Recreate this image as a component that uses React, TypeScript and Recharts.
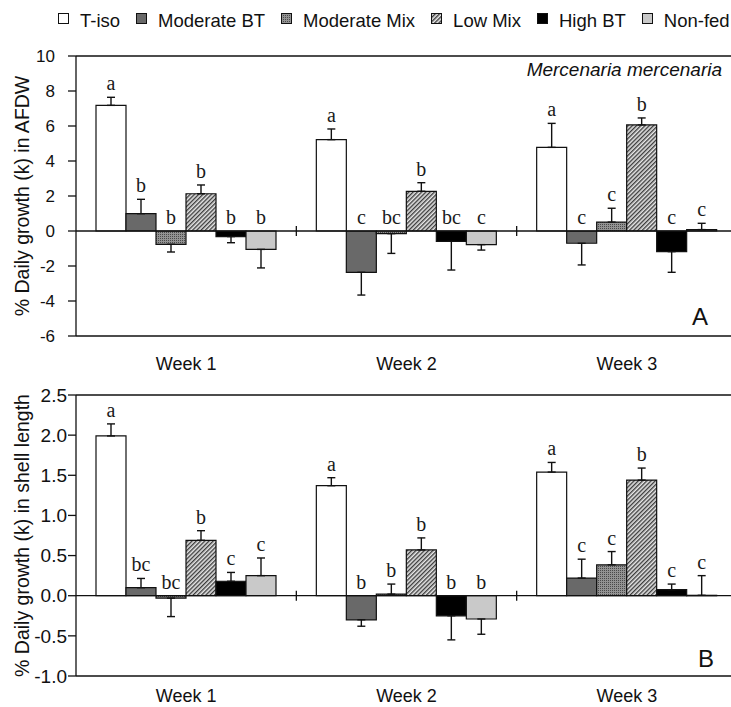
import React from 'react';
import { BarChart, Bar, XAxis, YAxis, ErrorBar, LabelList, ReferenceLine } from 'recharts';

const weeks = ['Week 1', 'Week 2', 'Week 3'];
const treatments = ['T-iso', 'Moderate BT', 'Moderate Mix', 'Low Mix', 'High BT', 'Non-fed'];
const keys = ['tiso', 'modBT', 'modMix', 'lowMix', 'highBT', 'nonFed'];

// panel A: % daily growth (k) in AFDW, one array per week, treatments in order
const afdwWeek1 = [7.18, 0.99, -0.76, 2.13, -0.32, -1.05];
const afdwWeek2 = [5.22, -2.36, -0.15, 2.27, -0.59, -0.78];
const afdwWeek3 = [4.78, -0.7, 0.51, 6.06, -1.18, 0.08];
const afdwErrWeek1 = [0.46, 0.82, 0.44, 0.5, 0.35, 1.06];
const afdwErrWeek2 = [0.61, 1.3, 1.13, 0.49, 1.64, 0.31];
const afdwErrWeek3 = [1.37, 1.24, 0.79, 0.4, 1.18, 0.36];
const afdwSigWeek1 = ['a', 'b', 'b', 'b', 'b', 'b'];
const afdwSigWeek2 = ['a', 'c', 'bc', 'b', 'bc', 'c'];
const afdwSigWeek3 = ['a', 'c', 'c', 'b', 'c', 'c'];
const afdwTicks = [-6, -4, -2, 0, 2, 4, 6, 8, 10];

// panel B: % daily growth (k) in shell length
const shellWeek1 = [1.99, 0.1, -0.03, 0.69, 0.18, 0.25];
const shellWeek2 = [1.37, -0.3, 0.02, 0.57, -0.25, -0.29];
const shellWeek3 = [1.54, 0.22, 0.385, 1.44, 0.075, 0.005];
const shellErrWeek1 = [0.15, 0.115, 0.23, 0.12, 0.11, 0.22];
const shellErrWeek2 = [0.1, 0.08, 0.125, 0.15, 0.3, 0.19];
const shellErrWeek3 = [0.12, 0.235, 0.165, 0.15, 0.07, 0.245];
const shellSigWeek1 = ['a', 'bc', 'bc', 'b', 'c', 'c'];
const shellSigWeek2 = ['a', 'b', 'b', 'b', 'b', 'b'];
const shellSigWeek3 = ['a', 'c', 'c', 'b', 'c', 'c'];
const shellTicks = [-1, -0.5, 0, 0.5, 1, 1.5, 2, 2.5];

const fills = ['#ffffff', '#696969', 'url(#stipple)', 'url(#hatch)', '#000000', '#c9c9c9'];
const SANS = '"Liberation Sans", Arial, sans-serif';
const SERIF = '"Liberation Serif", "Times New Roman", serif';

// one row per week; error bars are one-sided, pointing away from zero
function buildRows(means: number[][], errs: number[][], sigs: string[][]) {
  return weeks.map((week, w) => {
    const row: any = { week };
    keys.forEach((k, i) => {
      const v = means[w][i];
      const e = errs[w][i];
      row[k] = v;
      row[k + 'E'] = e;
      row[k + 'Err'] = v >= 0 ? [0, e] : [e, 0];
      row[k + 'Sig'] = sigs[w][i];
    });
    return row;
  });
}

const afdwRows = buildRows(
  [afdwWeek1, afdwWeek2, afdwWeek3],
  [afdwErrWeek1, afdwErrWeek2, afdwErrWeek3],
  [afdwSigWeek1, afdwSigWeek2, afdwSigWeek3]
);
const shellRows = buildRows(
  [shellWeek1, shellWeek2, shellWeek3],
  [shellErrWeek1, shellErrWeek2, shellErrWeek3],
  [shellSigWeek1, shellSigWeek2, shellSigWeek3]
);

const patternDefs = () => (
  <defs>
    <pattern id="stipple" width="2" height="2" patternUnits="userSpaceOnUse">
      <rect width="2" height="2" fill="#939393" />
      <rect width="1" height="1" fill="#4a4a4a" />
    </pattern>
    <pattern id="hatch" width="3" height="3" patternUnits="userSpaceOnUse" patternTransform="rotate(45)">
      <rect width="3" height="3" fill="#e6e6e6" />
      <line x1="0.7" y1="0" x2="0.7" y2="3" stroke="#333" strokeWidth="1.3" />
    </pattern>
  </defs>
);

// significance letter sits above the error bar (or above zero for negative bars)
const sigLabel = (rows: any[], key: string) => (p: any) => {
  const vb = p.viewBox ?? p;
  const { x, y, width, height } = vb;
  const row = rows[p.index];
  if (!row) return null;
  const v = row[key];
  const e = row[key + 'E'];
  const ppu = Math.abs(height / (v || 1e-6));
  const zeroY = v < 0 && height > 0 ? y : y + height;
  const anchor = v >= 0 ? zeroY - (v + e) * ppu : zeroY;
  return (
    <text x={x + width / 2} y={anchor - 7} textAnchor="middle" fontFamily={SERIF} fontSize={20} fill="#1a1a1a">
      {p.value}
    </text>
  );
};

const zeroLine = (p: any) => {
  const { x1, x2, y1 } = p;
  const step = (x2 - x1) / weeks.length;
  return (
    <g>
      <line x1={x1} x2={x2} y1={y1} y2={y1} stroke="#111" strokeWidth={1.3} />
      {weeks.map((w, i) => (
        <line key={w} x1={x1 + step * (i + 1)} x2={x1 + step * (i + 1)} y1={y1 - 5} y2={y1 + 5} stroke="#111" strokeWidth={1.3} />
      ))}
    </g>
  );
};

const axisTitle = (text: string) => (p: any) => {
  const vb = p.viewBox;
  const cy = vb.y + vb.height / 2;
  return (
    <text x={22} y={cy} transform={`rotate(-90, 22, ${cy})`} textAnchor="middle" dominantBaseline="central" fontFamily={SANS} fontSize={19.5} fill="#111">
      {text}
    </text>
  );
};

interface PanelProps {
  rows: any[];
  domain: [number, number];
  ticks: number[];
  title: string;
  height: number;
  marginTop: number;
  xHeight: number;
  xTickMargin: number;
  yTickMargin: number;
  yFont: number;
  fmt: (v: number) => string;
}

function Panel({ rows, domain, ticks, title, height, marginTop, xHeight, xTickMargin, yTickMargin, yFont, fmt }: PanelProps) {
  return (
    <BarChart
      width={760}
      height={height}
      data={rows}
      margin={{ top: marginTop, right: 23, left: 0, bottom: 0 }}
      barCategoryGap={20}
      barGap={0}
    >
      {patternDefs()}
      <XAxis
        dataKey="week"
        height={xHeight}
        tickLine={false}
        tickSize={0}
        tickMargin={xTickMargin}
        axisLine={{ stroke: '#111', strokeWidth: 1.3 }}
        tick={{ fill: '#111', fontSize: 18, fontFamily: SANS }}
      />
      <YAxis
        width={76}
        domain={domain}
        ticks={ticks}
        interval={0}
        tickSize={8}
        tickMargin={yTickMargin}
        tickFormatter={fmt}
        axisLine={{ stroke: '#111', strokeWidth: 1.3 }}
        tickLine={{ stroke: '#111', strokeWidth: 1.3 }}
        tick={{ fill: '#111', fontSize: yFont, fontFamily: SANS }}
        label={axisTitle(title)}
      />
      <ReferenceLine y={domain[1]} stroke="#111" strokeWidth={1.3} />
      {keys.map((k, i) => (
        <Bar key={k} dataKey={k} name={treatments[i]} fill={fills[i]} stroke="#111" strokeWidth={1.2} isAnimationActive={false}>
          <ErrorBar dataKey={k + 'Err'} width={4} stroke="#111" strokeWidth={1.4} direction="y" isAnimationActive={false} />
          <LabelList dataKey={k + 'Sig'} content={sigLabel(rows, k)} />
        </Bar>
      ))}
      <ReferenceLine y={0} shape={zeroLine} />
    </BarChart>
  );
}

function Legend() {
  return (
    <div style={{ position: 'absolute', left: 58, top: 10, display: 'flex', gap: 16, whiteSpace: 'nowrap', fontFamily: SANS, fontSize: 18.5, lineHeight: '22px', color: '#111' }}>
      {treatments.map((t, i) => (
        <div key={t} style={{ display: 'flex', alignItems: 'flex-start' }}>
          <svg width={11} height={11} style={{ marginTop: 3, marginRight: 11 }}>
            {patternDefs()}
            <rect x={0.5} y={0.5} width={10} height={10} fill={fills[i]} stroke="#111" strokeWidth={1} />
          </svg>
          <span>{t}</span>
        </div>
      ))}
    </div>
  );
}

export default function App() {
  return (
    <div style={{ position: 'absolute', left: 0, top: 0, width: 731, height: 707, overflow: 'hidden', background: '#fff' }}>
      <Legend />
      <div style={{ position: 'absolute', left: 0, top: 40 }}>
        <Panel
          rows={afdwRows}
          domain={[-6, 10]}
          ticks={afdwTicks}
          title="% Daily growth (k) in AFDW"
          height={340}
          marginTop={16}
          xHeight={44}
          xTickMargin={21}
          yTickMargin={13}
          yFont={17}
          fmt={(v) => String(v)}
        />
      </div>
      <div style={{ position: 'absolute', left: 0, top: 380 }}>
        <Panel
          rows={shellRows}
          domain={[-1, 2.5]}
          ticks={shellTicks}
          title="% Daily growth (k) in shell length"
          height={327}
          marginTop={15}
          xHeight={31}
          xTickMargin={13}
          yTickMargin={1}
          yFont={19}
          fmt={(v) => v.toFixed(1)}
        />
      </div>
      <svg width={731} height={707} style={{ position: 'absolute', left: 0, top: 0, pointerEvents: 'none' }}>
        <text x={722} y={76} textAnchor="end" fontFamily={SANS} fontStyle="italic" fontSize={19} fill="#111">
          Mercenaria mercenaria
        </text>
        <text x={700} y={325} textAnchor="middle" fontFamily={SANS} fontSize={24} fill="#111">A</text>
        <text x={706} y={667} textAnchor="middle" fontFamily={SANS} fontSize={24} fill="#111">B</text>
      </svg>
    </div>
  );
}
